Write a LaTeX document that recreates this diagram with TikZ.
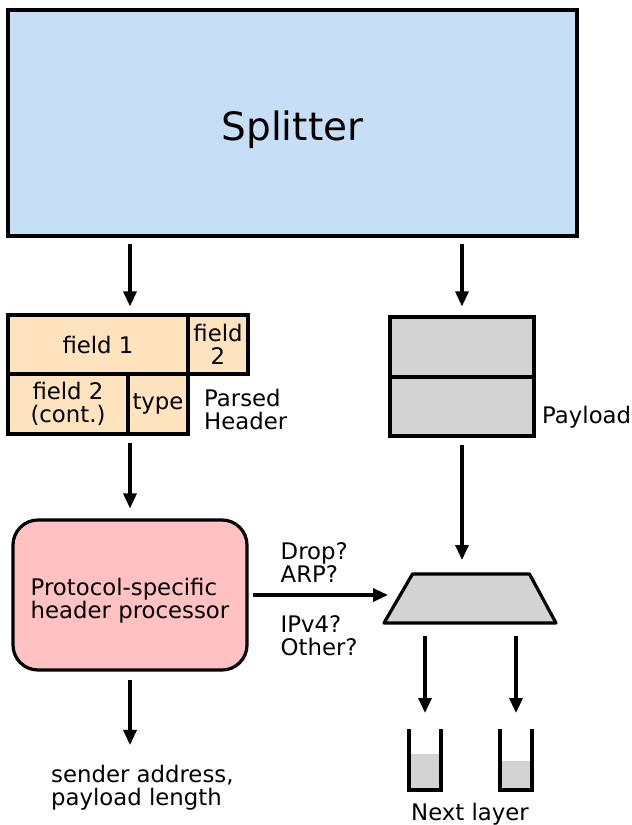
\documentclass[tikz,border=0pt]{standalone}
\usepackage{fontspec}
\setmainfont{DejaVu Sans}
\usetikzlibrary{arrows.meta}
\definecolor{splitblue}{HTML}{C6DFF7}
\definecolor{hdrtan}{HTML}{FFE3BF}
\definecolor{procpink}{HTML}{FFC1C1}
\definecolor{paygray}{HTML}{D3D3D3}
\tikzset{
  lw/.style={line width=3.2pt},
  box/.style={draw=black, lw, inner sep=0pt, align=center},
  hdr/.style={box, fill=hdrtan},
  pay/.style={box, fill=paygray, minimum width=144pt},
  arr/.style={lw, -{Triangle[length=15pt,width=13pt]}},
  txt/.style={font=\fontsize{22.8}{22.5}\selectfont},
  lbl/.style={txt, inner sep=0pt, align=left},
  slot/.style={inner sep=0pt, outer sep=0pt},
}
\begin{document}
\begin{tikzpicture}[x=1pt,y=-1pt]
\useasboundingbox (0,0) rectangle (632,825);

% splitter
\node[box, fill=splitblue, minimum width=569pt, minimum height=226pt,
      text height=34pt, text depth=0pt,
      font=\fontsize{39}{40}\selectfont] (split) at (292.5,123) {Splitter};

% parsed header fields
\node[hdr, txt, minimum width=180pt, minimum height=59pt] (f1) at (98,344.5) {field 1};
\node[hdr, txt, minimum width=60pt, minimum height=59pt] (f2) at (218,344.5) {field\\2};
\node[hdr, txt, minimum width=120pt, minimum height=60pt] (f2c) at (68,404) {field 2\\(cont.)};
\node[hdr, txt, minimum width=60pt, minimum height=60pt] (ty) at (158,404) {type};
\node[lbl, anchor=base west] (hlbl) at (204,429) {Parsed\\Header};

% payload buffer
\node[pay, minimum height=60pt] (p1) at (462,347) {};
\node[pay, minimum height=59pt] (p2) at (462,406.5) {};
\node[lbl, anchor=base west] (plbl) at (542,423) {Payload};

% header processor
\node[box, fill=procpink, rounded corners=25pt, minimum width=234pt,
      minimum height=150pt, txt, align=left, text height=46pt, text depth=0pt]
      (proc) at (130,595) {Protocol-specific\\header processor};
\node[lbl, anchor=base west] (out) at (51,805) {sender address,\\payload length};

% demultiplexer: trapezoid drawn around an invisible anchor box
\node[slot, minimum width=172pt, minimum height=49pt] (mux) at (470,598.5) {};
\draw[lw, fill=paygray, line join=round]
  (mux.south west) -- ([xshift=28.5pt]mux.north west)
  -- ([xshift=-26.5pt]mux.north east) -- (mux.south east) -- cycle;
\coordinate (muxin) at ([xshift=14pt]mux.west);

% output queues
\node[slot, minimum width=32pt, minimum height=61pt] (qL) at (425,759.5) {};
\node[slot, minimum width=32pt, minimum height=61pt] (qR) at (516,759.5) {};
\fill[paygray] (qL.west |- 0,754) rectangle (qL.south east);
\fill[paygray] (qR.west |- 0,761) rectangle (qR.south east);
\draw[lw] (qL.north west) -- (qL.south west) -- (qL.south east) -- (qL.north east);
\draw[lw] (qR.north west) -- (qR.south west) -- (qR.south east) -- (qR.north east);
\node[txt, inner sep=0pt, anchor=base] (nl) at (470,820) {Next layer};

% connectors
\draw[arr] ([yshift=-6pt]split.south -| 130,0) -- ([yshift=7pt]f1.north -| 130,0);
\draw[arr] ([yshift=-6pt]split.south -| p1.north) -- ([yshift=9pt]p1.north);
\draw[arr] ([yshift=-7pt]f2c.south -| 130,0) -- ([yshift=10pt]proc.north -| 130,0);
\draw[arr] ([yshift=-8pt]proc.south -| 130,0) -- ([yshift=20pt]out.north -| 130,0);
\draw[arr] ([yshift=-7pt]p2.south) -- ([yshift=14pt]mux.north -| p2.south);
\draw[arr] ([xshift=4pt]proc.east |- 0,595) -- ([xshift=-10pt]muxin |- 0,595);
\draw[arr] ([yshift=-13pt]mux.south -| qL.north) -- ([yshift=16pt]qL.north);
\draw[arr] ([yshift=-13pt]mux.south -| qR.north) -- ([yshift=16pt]qR.north);

% decision labels
\node[lbl, anchor=base west] (q1) at (280.5,582) {Drop?\\ARP?};
\node[lbl, anchor=base west] (q2) at (280.5,655) {IPv4?\\Other?};
\end{tikzpicture}
\end{document}
